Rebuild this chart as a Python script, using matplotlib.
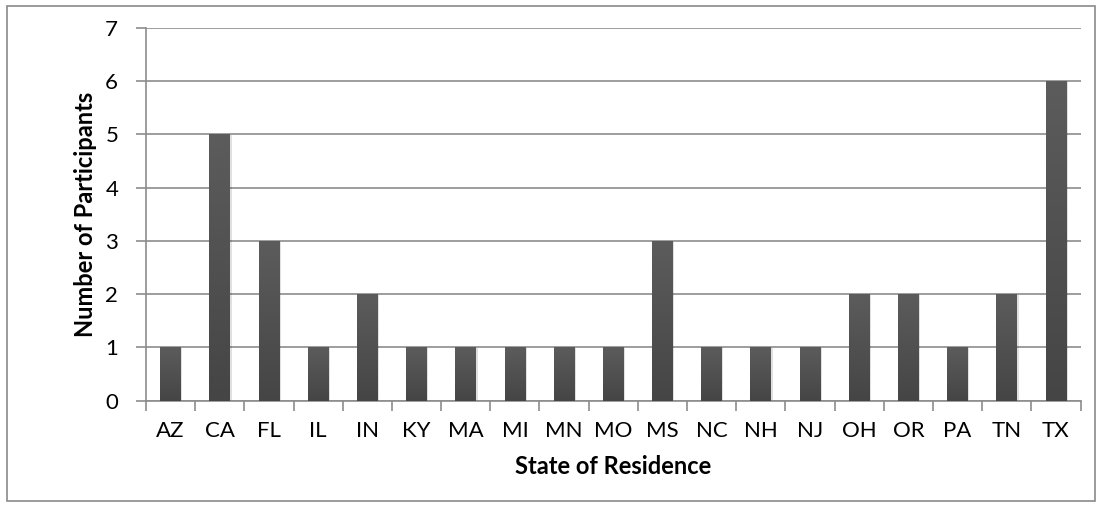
import numpy as np
import matplotlib
matplotlib.use("Agg")
import matplotlib.pyplot as plt
from matplotlib.patches import Rectangle

plt.rcParams["font.family"] = ["Lato", "DejaVu Sans"]

states = ["AZ", "CA", "FL", "IL", "IN", "KY", "MA", "MI", "MN", "MO",
          "MS", "NC", "NH", "NJ", "OH", "OR", "PA", "TN", "TX"]
participants = [1, 5, 3, 1, 2, 1, 1, 1, 1, 1, 3, 1, 1, 1, 2, 2, 1, 2, 6]

GRID = "#8c8c8c"
BAR_W = 0.42
TICK_FS = 16
LABEL_FS = 17

fig = plt.figure(figsize=(11.02, 5.07), dpi=100)
# outer chart frame
fig.patches.append(Rectangle((0.006, 0.012), 0.988, 0.976, transform=fig.transFigure,
                             fill=False, ec="#8a8a8a", lw=1.2))
ax = fig.add_axes([0.1325, 0.21, 0.848, 0.735])

x = np.arange(len(states))
# vertical gradient for bars: lighter at top, darker at bottom
grad = np.linspace(0, 1, 256).reshape(-1, 1)
cmap = matplotlib.colors.LinearSegmentedColormap.from_list("bar", ["#454545", "#5c5c5c"])
for xi, v in zip(x, participants):
    # soft shadow
    ax.add_patch(Rectangle((xi - BAR_W / 2 + 0.03, 0), BAR_W, v - 0.02,
                           fc="#000000", alpha=0.12, ec="none", zorder=2))
    bar = ax.bar(xi, v, BAR_W, color="none", zorder=3)[0]
    im = ax.imshow(grad, extent=(xi - BAR_W / 2, xi + BAR_W / 2, 0, v), origin="lower",
                   cmap=cmap, aspect="auto", zorder=3)
    im.set_clip_path(bar)

ax.set_xlim(-0.5, len(states) - 0.5)
ax.set_ylim(0, 7)
ax.set_yticks(range(8))
ax.yaxis.grid(True, color=GRID, lw=1.2, zorder=0)
ax.set_axisbelow(True)

ax.set_xticks(x)
ax.set_xticklabels(states)
ax.set_xticks(np.arange(-0.5, len(states), 1), minor=True)
ax.tick_params(axis="x", which="major", length=0, pad=15, labelsize=TICK_FS)
ax.tick_params(axis="x", which="minor", length=7, color=GRID, width=1.2)
ax.tick_params(axis="y", length=7, color=GRID, width=1.2, pad=13, labelsize=TICK_FS)

for side in ("top", "right"):
    ax.spines[side].set_visible(False)
for side in ("left", "bottom"):
    ax.spines[side].set_color(GRID)
    ax.spines[side].set_linewidth(1.2)

ax.set_xlabel("State of Residence", fontsize=LABEL_FS, fontweight="bold", labelpad=10)
ax.set_ylabel("Number of Participants", fontsize=LABEL_FS, fontweight="bold", labelpad=6)

fig.savefig("out.png", dpi=100)
